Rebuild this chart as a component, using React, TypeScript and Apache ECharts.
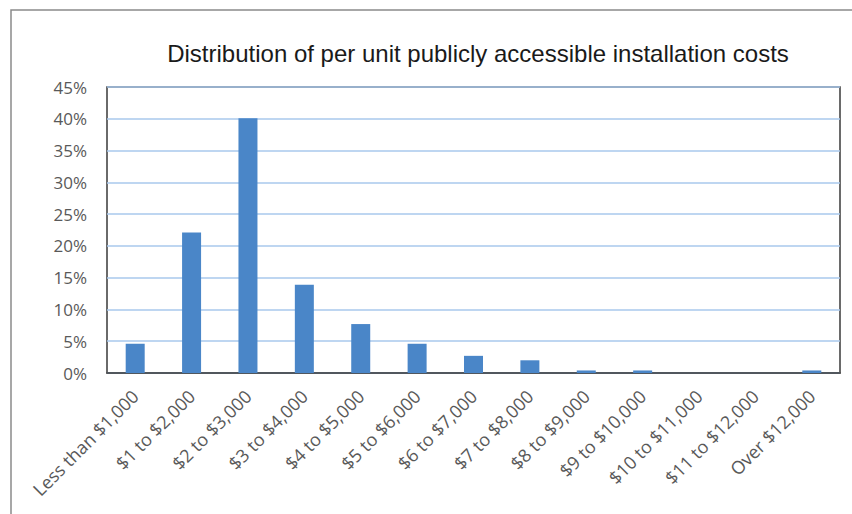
import React, { useEffect, useRef } from "react";
import * as echarts from "echarts";

const categories = [
  "Less than $1,000",
  "$1 to $2,000",
  "$2 to $3,000",
  "$3 to $4,000",
  "$4 to $5,000",
  "$5 to $6,000",
  "$6 to $7,000",
  "$7 to $8,000",
  "$8 to $9,000",
  "$9 to $10,000",
  "$10 to $11,000",
  "$11 to $12,000",
  "Over $12,000",
];
const shares = [4.6, 22.1, 40.1, 13.9, 7.7, 4.6, 2.7, 2.0, 0.4, 0.4, 0, 0, 0.4];
const titleText = "Distribution of per unit publicly accessible installation costs";

export default function App() {
  const ref = useRef<HTMLDivElement>(null);
  useEffect(() => {
    if (!ref.current) return;
    const chart = echarts.init(ref.current, null, { renderer: "svg" });
    chart.setOption({
      animation: false,
      backgroundColor: "#ffffff",
      title: {
        text: titleText,
        left: 473,
        textAlign: "center",
        top: 36,
        textStyle: {
          fontFamily: "Liberation Sans, Arial, sans-serif",
          fontSize: 24,
          fontWeight: "normal",
          color: "#1a1a1a",
        },
      },
      graphic: [
        {
          type: "polyline",
          shape: { points: [[11, 514], [11, 10], [852, 10]] },
          style: { stroke: "#8a8a8a", lineWidth: 1.5, fill: "none" },
          silent: true,
        },
      ],
      grid: {
        left: 107,
        right: 12,
        top: 87,
        bottom: 141,
        show: true,
        borderColor: "#3a3a3a",
        borderWidth: 1.5,
        backgroundColor: "#ffffff",
      },
      xAxis: {
        type: "category",
        data: categories,
        axisTick: { show: false },
        axisLine: { show: true, lineStyle: { color: "#3a3a3a", width: 1.5 } },
        axisLabel: {
          rotate: 45,
          interval: 0,
          margin: 20,
          color: "#595959",
          fontFamily: "Open Sans, sans-serif",
          fontSize: 18,
        },
      },
      yAxis: {
        type: "value",
        min: 0,
        max: 45,
        interval: 5,
        axisLine: { show: false },
        axisTick: { show: false },
        axisLabel: {
          formatter: "{value}%",
          margin: 20,
          color: "#595959",
          fontFamily: "Open Sans, sans-serif",
          fontSize: 17,
        },
        splitLine: { lineStyle: { color: "#a9c9ec", width: 1.5 } },
      },
      series: [
        {
          type: "bar",
          data: shares,
          barWidth: 19,
          itemStyle: { color: "#4a86c8" },
        },
      ],
    });
    return () => chart.dispose();
  }, []);
  return (
    <div
      ref={ref}
      style={{ position: "absolute", left: 0, top: 0, width: 852, height: 514 }}
    />
  );
}
